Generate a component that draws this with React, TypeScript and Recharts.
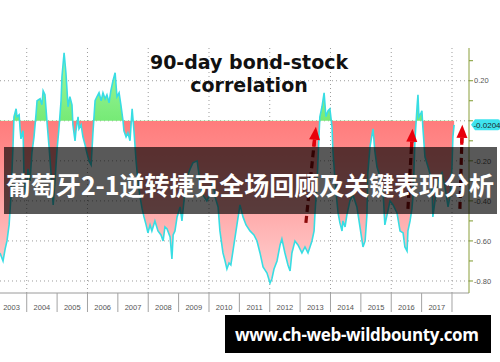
import React from 'react';
import { AreaChart, Area, XAxis, YAxis, CartesianGrid, ReferenceLine } from 'recharts';

// decimal year of each reading, and the 90-day correlation at that time
const T = [
  2003.12, 2003.22, 2003.29, 2003.35, 2003.42, 2003.48, 2003.55, 2003.58, 2003.65, 2003.68, 2003.75, 2003.78, 2003.81, 2003.88, 2003.91, 2003.98,
  2004.04, 2004.11, 2004.17, 2004.24, 2004.31, 2004.34, 2004.44, 2004.5, 2004.54, 2004.6, 2004.67, 2004.73, 2004.8, 2004.87, 2004.93,
  2005.0, 2005.06, 2005.13, 2005.16, 2005.23, 2005.29, 2005.36, 2005.42, 2005.49, 2005.52, 2005.59, 2005.62, 2005.69, 2005.72, 2005.79, 2005.85, 2005.92, 2005.98,
  2006.05, 2006.12, 2006.18, 2006.25, 2006.31, 2006.38, 2006.45, 2006.51, 2006.58, 2006.64, 2006.71, 2006.77, 2006.84, 2006.91, 2006.97,
  2007.04, 2007.1, 2007.17, 2007.2, 2007.27, 2007.33, 2007.4, 2007.47, 2007.53, 2007.6, 2007.66, 2007.73, 2007.8, 2007.86, 2007.93, 2007.99,
  2008.06, 2008.12, 2008.22, 2008.32, 2008.42, 2008.49, 2008.55, 2008.62, 2008.72, 2008.78, 2008.82, 2008.88, 2008.95,
  2009.05, 2009.11, 2009.21, 2009.28, 2009.38, 2009.47, 2009.61, 2009.7, 2009.8, 2009.93,
  2010.03, 2010.13, 2010.2, 2010.3, 2010.36, 2010.46, 2010.53, 2010.59, 2010.66, 2010.72, 2010.79, 2010.92,
  2011.02, 2011.12, 2011.22, 2011.35, 2011.48, 2011.58, 2011.68, 2011.78, 2011.91,
  2012.01, 2012.07, 2012.14, 2012.24, 2012.34, 2012.4, 2012.5, 2012.6, 2012.67, 2012.73, 2012.83, 2012.93,
  2013.06, 2013.16, 2013.26, 2013.39, 2013.46, 2013.49, 2013.56, 2013.62, 2013.65, 2013.72, 2013.79, 2013.85, 2013.92, 2013.98,
  2014.05, 2014.08, 2014.15, 2014.21, 2014.25, 2014.31, 2014.38, 2014.41, 2014.48, 2014.54, 2014.64, 2014.74, 2014.87, 2014.97,
  2015.07, 2015.14, 2015.2, 2015.23, 2015.3, 2015.4, 2015.46, 2015.53, 2015.63, 2015.73, 2015.79, 2015.89, 2015.96,
  2016.06, 2016.19, 2016.29, 2016.39, 2016.45, 2016.52, 2016.55, 2016.62, 2016.68, 2016.72, 2016.78, 2016.85, 2016.88, 2016.91, 2016.98,
  2017.01, 2017.04, 2017.11, 2017.21, 2017.34, 2017.37, 2017.44, 2017.54, 2017.67, 2017.77, 2017.87, 2017.93,
  2018.0, 2018.03, 2018.07,
];

const CORR = [
  -0.66, -0.7, -0.64, -0.6, -0.52, -0.38, -0.12, 0.02, 0.06, 0.02, 0.03, -0.04, -0.09, -0.05, -0.28, -0.38,
  -0.24, -0.3, -0.16, -0.08, 0.04, 0.1, 0.11, 0.08, 0.15, 0.13, -0.01, -0.12, -0.26, -0.42, -0.3,
  -0.14, -0.04, 0.1, 0.22, 0.34, 0.24, 0.07, 0.12, 0.08, -0.02, -0.1, -0.05, 0.02, -0.04, -0.02, -0.08, -0.12, -0.16,
  -0.2, -0.22, -0.06, 0.1, 0.12, 0.14, 0.1, 0.14, 0.11, 0.13, 0.09, 0.15, 0.2, 0.24, 0.12,
  0.14, 0.08, 0.0, -0.05, -0.08, -0.06, -0.1, 0.06, -0.05, -0.2, -0.3, -0.38, -0.44, -0.48, -0.52, -0.56,
  -0.52, -0.55, -0.5, -0.55, -0.57, -0.6, -0.53, -0.54, -0.58, -0.69, -0.57, -0.55, -0.48,
  -0.43, -0.5, -0.35, -0.28, -0.24, -0.21, -0.2, -0.3, -0.37, -0.4,
  -0.37, -0.3, -0.38, -0.43, -0.55, -0.66, -0.7, -0.74, -0.71, -0.72, -0.65, -0.52,
  -0.42, -0.48, -0.52, -0.55, -0.57, -0.6, -0.66, -0.73, -0.76,
  -0.81, -0.79, -0.74, -0.7, -0.62, -0.59, -0.66, -0.72, -0.75, -0.66, -0.6, -0.62,
  -0.66, -0.63, -0.66, -0.6, -0.55, -0.46, -0.3, -0.08, 0.02, 0.07, 0.14, 0.02, 0.05, 0.06,
  -0.03, -0.15, -0.3, -0.4, -0.46, -0.51, -0.55, -0.5, -0.53, -0.47, -0.4, -0.37, -0.43, -0.53,
  -0.63, -0.6, -0.47, -0.26, -0.13, -0.04, -0.15, -0.23, -0.28, -0.35, -0.52, -0.45, -0.4,
  -0.42, -0.46, -0.55, -0.56, -0.63, -0.65, -0.55, -0.5, -0.44, -0.37, -0.1, 0.07, 0.13, 0.02, 0.04,
  0.05, -0.03, -0.18, -0.23, -0.3, -0.48, -0.4, -0.3, -0.26, -0.33, -0.43, -0.38,
  -0.23, -0.08, -0.0204,
];

const YEAR_LABELS = [2003, 2004, 2005, 2006, 2007, 2008, 2009, 2010, 2011, 2012, 2013, 2014, 2015, 2016, 2017];
const YEAR_BOUNDS = [2004, 2005, 2006, 2007, 2008, 2009, 2010, 2011, 2012, 2013, 2014, 2015, 2016, 2017, 2018];
const GRID_YEARS = [2004, 2006, 2008, 2010, 2012, 2014, 2016, 2018];
const Y_TICKS = [0.3, 0.2, 0.1, 0, -0.1, -0.2, -0.3, -0.4, -0.5, -0.6, -0.7, -0.8];
const Y_GRID = [0.2, 0, -0.2, -0.4, -0.6, -0.8];
const LAST_VALUE = -0.0204;

// annotation arrows: [year, value] of tail and tip
const ARROWS = [
  { from: [2013.19, -0.51], to: [2013.52, -0.03] },
  { from: [2016.55, -0.44], to: [2016.7, -0.04] },
  { from: [2018.26, -0.44], to: [2018.34, -0.02] },
];

const TITLE = ['90-day bond-stock', 'correlation'];
const HEADLINE = '葡萄牙2-1逆转捷克全场回顾及关键表现分析';
const SITE = 'www.ch-web-wildbounty.com';

const rows = T.map((t, i) => ({ t, v: CORR[i] }));
const maxV = Math.max(...CORR);
const minV = Math.min(...CORR);
const split = maxV / (maxV - minV);
const xTicks = [...YEAR_BOUNDS, ...YEAR_LABELS.map((y) => y + 0.5)].sort((a, b) => a - b);

function YearTick(props: any) {
  const { x, y, payload } = props;
  const v = payload.value;
  if (Number.isInteger(v)) {
    return <line x1={x} x2={x} y1={y} y2={y + 19} stroke="#a3a3a3" strokeWidth={1} />;
  }
  return (
    <text x={x} y={y + 17} textAnchor="middle" fontSize={7.5} fill="#555" fontFamily="Liberation Sans, Arial, sans-serif">
      {Math.floor(v)}
    </text>
  );
}

function CorrTick(props: any) {
  const { x, y, payload } = props;
  const v = payload.value;
  const major = Math.abs(Math.round(v * 10)) % 2 === 0;
  return (
    <g>
      <line x1={x} x2={x + 4} y1={y} y2={y} stroke="#7d9a2c" strokeWidth={1} />
      {major && v !== 0 && (
        <text x={x + 5} y={y} dy={2.7} fontSize={7.5} fill="#555" fontFamily="Liberation Sans, Arial, sans-serif">
          {v.toFixed(2)}
        </text>
      )}
    </g>
  );
}

function Badge(props: any) {
  const vb = props.viewBox || {};
  const x = vb.x + vb.width + 2;
  const y = vb.y;
  return (
    <g>
      <path
        d={`M${x} ${y} L${x + 4} ${y - 5.5} L${x + 27} ${y - 5.5} Q${x + 29} ${y - 5.5} ${x + 29} ${y - 3.5} L${x + 29} ${y + 3.5} Q${x + 29} ${y + 5.5} ${x + 27} ${y + 5.5} L${x + 4} ${y + 5.5} Z`}
        fill="#3ee3ee"
      />
      <text x={x + 16} y={y} dy={2.8} textAnchor="middle" fontSize={8} fill="#1a2a2a" fontFamily="Liberation Sans, Arial, sans-serif">
        {LAST_VALUE.toFixed(4)}
      </text>
    </g>
  );
}

function ArrowShape(p: any) {
  const { x1, y1, x2, y2 } = p;
  const dx = x2 - x1;
  const dy = y2 - y1;
  const len = Math.hypot(dx, dy) || 1;
  const ux = dx / len;
  const uy = dy / len;
  const headL = 13;
  const headW = 5.5;
  const bx = x2 - ux * headL;
  const by = y2 - uy * headL;
  const px = -uy;
  const py = ux;
  return (
    <g>
      <line x1={x1} y1={y1} x2={bx} y2={by} stroke="#8c0a0a" strokeWidth={3.2} strokeDasharray="7 4" />
      <line x1={bx - ux * 7} y1={by - uy * 7} x2={bx} y2={by} stroke="#e3000b" strokeWidth={3.2} />
      <polygon
        points={`${x2},${y2} ${bx + px * headW},${by + py * headW} ${bx - px * headW},${by - py * headW}`}
        fill="#e8000b"
      />
    </g>
  );
}

export default function App() {
  return (
    <div style={{ position: 'absolute', left: 0, top: 0, width: 500, height: 362, background: '#fff', overflow: 'hidden' }}>
      <AreaChart width={500} height={362} data={rows} margin={{ top: 48, right: 0, bottom: 49, left: 0 }}>
        <defs>
          <linearGradient id="corrFill" x1="0" y1="0" x2="0" y2="1">
            <stop offset={0} stopColor="#a4f8a4" />
            <stop offset={split} stopColor="#76ea76" />
            <stop offset={split} stopColor="#ff7c7c" />
            <stop offset={split + (1 - split) * 0.25} stopColor="#ff8e8e" />
            <stop offset={1} stopColor="#ffd3d3" />
          </linearGradient>
        </defs>
        <CartesianGrid
          stroke="#9c9c9c"
          strokeDasharray="1 3"
          horizontalValues={Y_GRID}
          verticalValues={GRID_YEARS}
        />
        <XAxis
          dataKey="t"
          type="number"
          domain={[2003.12, 2018.56]}
          ticks={xTicks}
          interval={0}
          allowDataOverflow
          height={20}
          tickSize={0}
          tickMargin={0}
          tickLine={false}
          axisLine={{ stroke: '#9a9a9a' }}
          tick={<YearTick />}
        />
        <YAxis
          orientation="right"
          width={31}
          domain={[-0.86, 0.3635]}
          ticks={Y_TICKS}
          interval={0}
          allowDataOverflow
          tickSize={0}
          tickMargin={0}
          tickLine={false}
          axisLine={{ stroke: '#8a9e3a' }}
          tick={<CorrTick />}
        />
        <Area
          type="linear"
          dataKey="v"
          baseValue={0}
          stroke="#38dde3"
          strokeWidth={1.6}
          fill="url(#corrFill)"
          fillOpacity={1}
          dot={false}
          activeDot={false}
          isAnimationActive={false}
        />
        <ReferenceLine y={LAST_VALUE} stroke="none" ifOverflow="visible" label={(p: any) => <Badge {...p} />} />
        {ARROWS.map((a, i) => (
          <ReferenceLine
            key={i}
            ifOverflow="visible"
            segment={[
              { x: a.from[0], y: a.from[1] },
              { x: a.to[0], y: a.to[1] },
            ]}
            shape={(p: any) => <ArrowShape {...p} />}
          />
        ))}
      </AreaChart>
      <svg width={500} height={362} style={{ position: 'absolute', left: 0, top: 0 }}>
        <text x={249} y={68.5} textAnchor="middle" fontSize={19} fontWeight="bold" fill="#111" fontFamily="DejaVu Sans, Verdana, sans-serif">
          {TITLE[0]}
        </text>
        <text x={249} y={91.5} textAnchor="middle" fontSize={19} fontWeight="bold" fill="#111" fontFamily="DejaVu Sans, Verdana, sans-serif">
          {TITLE[1]}
        </text>
        <rect x={4} y={147} width={493} height={67} fill="rgba(0,0,0,0.65)" />
        <text
          x={250}
          y={184}
          textAnchor="middle"
          dominantBaseline="central"
          fontSize={25}
          fontWeight="bold"
          fill="#fff"
          fontFamily="Noto Sans CJK SC, sans-serif"
          textLength={488}
          lengthAdjust="spacing"
        >
          {HEADLINE}
        </text>
        <rect x={225} y={315} width={266} height={38} fill="#000" />
        <text
          x={357}
          y={334}
          textAnchor="middle"
          dominantBaseline="central"
          fontSize={17}
          fontWeight="bold"
          fill="#fff"
          fontFamily="Open Sans, sans-serif"
          textLength={244}
          lengthAdjust="spacing"
        >
          {SITE}
        </text>
      </svg>
    </div>
  );
}
